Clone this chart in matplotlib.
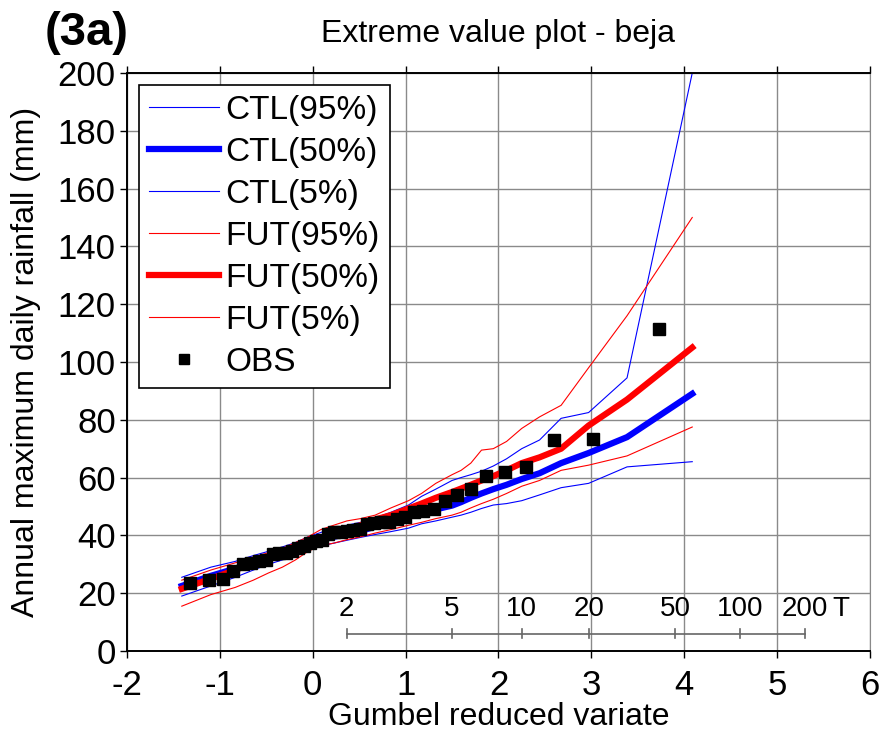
"""
Extreme value (Gumbel) plot of annual maximum daily rainfall at Beja:
control (CTL) and future (FUT) ensemble percentiles against observations.
"""

import numpy as np
import matplotlib
matplotlib.use('Agg')
import matplotlib.pyplot as plt

plt.rcParams['font.family'] = ['Liberation Sans', 'DejaVu Sans']
plt.rcParams['axes.unicode_minus'] = False

# Gumbel reduced variate of the ensemble nodes
model_x = [-1.410, -1.097, -0.834, -0.640, -0.476, -0.327, -0.186, -0.049,
           0.087, 0.225, 0.367, 0.514, 0.672, 0.842, 1.031, 1.171, 1.325,
           1.500, 1.597, 1.702, 1.817, 1.944, 2.087, 2.250, 2.442, 2.674,
           2.970, 3.384, 4.086]

ctl_95 = [25.5, 29.0, 31.0, 33.0, 34.5, 36.0, 37.5, 39.5, 41.0, 42.5, 43.5,
          44.5, 46.0, 48.0, 50.5, 53.5, 56.0, 59.0, 60.0, 61.0, 62.2, 64.0,
          66.5, 70.0, 73.0, 80.5, 82.5, 94.5, 200.0]
ctl_50 = [22.5, 26.0, 28.5, 30.5, 32.0, 33.5, 35.0, 36.5, 38.5, 39.5, 40.5,
          41.5, 43.0, 44.8, 46.8, 48.0, 49.0, 50.3, 51.5, 53.0, 54.5, 56.0,
          57.5, 59.5, 61.5, 65.0, 68.5, 74.0, 89.0]
ctl_05 = [19.0, 22.5, 25.5, 28.0, 30.0, 31.5, 33.0, 35.0, 36.3, 37.3, 38.3,
          39.3, 40.3, 41.3, 42.5, 44.0, 45.0, 46.3, 47.0, 48.0, 49.3, 50.5,
          51.0, 52.0, 54.0, 56.5, 58.0, 63.7, 65.5]
fut_95 = [24.5, 28.0, 30.5, 32.5, 34.0, 35.5, 37.5, 39.5, 42.0, 43.5, 45.0,
          45.8, 47.0, 49.5, 52.0, 54.5, 58.0, 61.0, 62.5, 65.0, 69.5, 70.0,
          72.5, 77.0, 81.0, 85.0, 98.0, 116.0, 150.0]
fut_50 = [21.5, 25.0, 28.0, 30.5, 32.5, 34.0, 35.5, 37.5, 39.0, 40.5, 42.0,
          43.5, 45.5, 47.0, 49.3, 51.0, 53.0, 55.0, 56.2, 57.5, 59.0, 60.5,
          62.5, 65.0, 67.0, 70.0, 78.0, 87.0, 105.0]
fut_05 = [15.5, 19.5, 22.0, 24.5, 27.0, 29.0, 31.5, 34.5, 36.5, 37.3, 38.5,
          39.5, 40.8, 42.0, 43.5, 44.5, 45.8, 47.0, 48.0, 49.5, 51.0, 52.5,
          54.5, 57.0, 59.0, 62.5, 64.3, 67.5, 77.5]

# Observed annual maxima at their plotting positions
obs_x = [-1.318, -1.113, -0.970, -0.855, -0.755, -0.666, -0.583, -0.506,
         -0.432, -0.361, -0.293, -0.225, -0.159, -0.094, -0.029, 0.036,
         0.100, 0.166, 0.232, 0.299, 0.367, 0.436, 0.507, 0.581, 0.656,
         0.735, 0.817, 0.903, 0.993, 1.089, 1.192, 1.302, 1.422, 1.554,
         1.702, 1.870, 2.065, 2.301, 2.602, 3.020, 3.726]
obs_y = [23.5, 24.5, 25.0, 27.5, 30.0, 30.5, 31.0, 31.5, 33.5, 33.8, 34.0,
         34.5, 35.5, 36.3, 37.5, 38.0, 38.5, 40.5, 41.0, 41.3, 41.6, 42.0,
         42.3, 44.0, 44.2, 44.5, 44.8, 45.5, 46.5, 48.0, 48.5, 49.0, 52.0,
         54.0, 56.0, 60.5, 62.0, 63.5, 73.0, 73.5, 111.5]

# Return periods shown on the inner scale
return_periods = [2, 5, 10, 20, 50, 100, 200]

fig = plt.figure(figsize=(8.83, 7.41), dpi=100)
ax = fig.add_axes([0.1438, 0.1215, 0.8415, 0.78])

ax.plot(model_x, ctl_95, color='#0000FF', lw=0.8, label='CTL(95%)')
ax.plot(model_x, ctl_50, color='#0000FF', lw=4.5, label='CTL(50%)')
ax.plot(model_x, ctl_05, color='#0000FF', lw=0.8, label='CTL(5%)')
ax.plot(model_x, fut_95, color='#FF0000', lw=0.8, label='FUT(95%)')
ax.plot(model_x, fut_50, color='#FF0000', lw=4.5, label='FUT(50%)')
ax.plot(model_x, fut_05, color='#FF0000', lw=0.8, label='FUT(5%)')
ax.plot(obs_x, obs_y, 's', color='black', ms=8.5, label='OBS', zorder=5)

ax.set_xlim(-2, 6)
ax.set_ylim(0, 200)
ax.set_xticks(range(-2, 7))
ax.set_yticks(range(0, 201, 20))
ax.grid(True, color='#8a8a8a', lw=1.0)
ax.set_axisbelow(True)

ax.tick_params(axis='both', labelsize=25, length=5, width=1, color='black')
ax.tick_params(axis='x', top=True, direction='out', pad=8)
ax.tick_params(axis='y', pad=3)
for side in ['left', 'bottom', 'top']:
    ax.spines[side].set_linewidth(1.4)
ax.spines['right'].set_color('#8a8a8a')

ax.set_title('Extreme value plot - beja', fontsize=23, pad=22)
ax.set_xlabel('Gumbel reduced variate', fontsize=23, labelpad=0)
ax.set_ylabel('Annual maximum daily rainfall (mm)', fontsize=23, labelpad=12)

# Inner return-period scale
t_pos = -np.log(-np.log(1 - 1 / np.array(return_periods, dtype=float)))
scale_y = 6.0
ax.plot([t_pos[0], t_pos[-1]], [scale_y, scale_y], color='#666666', lw=1.2, zorder=3)
for pos, T in zip(t_pos, return_periods):
    ax.plot([pos, pos], [scale_y - 1.5, scale_y + 1.5], color='#666666', lw=1.2, zorder=3)
    ax.text(pos, scale_y + 4, str(T), ha='center', va='bottom', fontsize=20)
ax.text(t_pos[-1] + 0.3, scale_y + 4, 'T', ha='left', va='bottom', fontsize=20)

leg = ax.legend(loc='upper left', fontsize=24, frameon=True, fancybox=False,
                edgecolor='black', framealpha=1, handlelength=2.1,
                handletextpad=0.2, labelspacing=0.33, borderaxespad=0.35,
                borderpad=0.3, markerscale=0.8)
leg.get_frame().set_linewidth(1.2)

fig.text(0.05, 0.985, '(3a)', fontsize=34, fontweight='bold', va='top')

fig.savefig('out.png', dpi=100)
